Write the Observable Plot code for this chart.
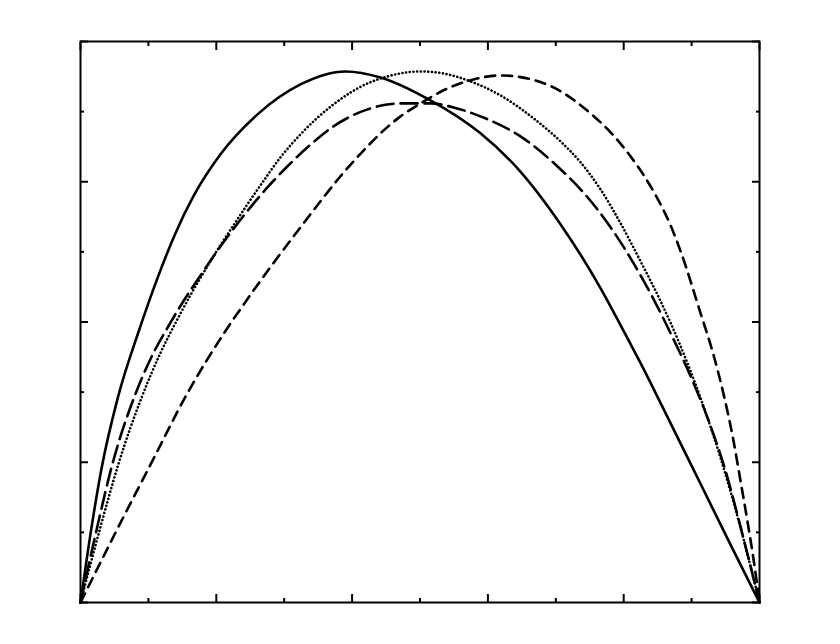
<!DOCTYPE html>
<html>
<head>
<meta charset="utf-8">
<script src="https://cdn.jsdelivr.net/npm/d3@7"></script>
<script src="https://cdn.jsdelivr.net/npm/@observablehq/plot@0.6"></script>
<style>
  html, body { margin: 0; padding: 0; background: #ffffff; }
  #chart svg { display: block; }
</style>
</head>
<body>
<div id="chart"></div>
<script>
// Solid curve
const solidX = [0, 0.0162, 0.0309, 0.0545, 0.0869, 0.1134, 0.1399, 0.1664, 0.2062, 0.2607, 0.3240, 0.3903, 0.4418, 0.5155, 0.5891, 0.6436, 0.7069, 0.7658, 0.7953, 0.8247, 0.8542, 0.9131, 0.9573, 1];
const solidY = [0, 0.1068, 0.1907, 0.2904, 0.3900, 0.4626, 0.5267, 0.5794, 0.6391, 0.6961, 0.7388, 0.7573, 0.7488, 0.7160, 0.6690, 0.6192, 0.5395, 0.4484, 0.3957, 0.3416, 0.2847, 0.1694, 0.0826, 0];

// Dotted curve
const dottedX = [0, 0.0280, 0.0560, 0.0898, 0.1178, 0.1414, 0.1620, 0.1870, 0.2062, 0.2283, 0.2459, 0.2651, 0.2946, 0.3240, 0.3726, 0.4227, 0.4521, 0.5007, 0.5346, 0.5744, 0.6186, 0.6672, 0.7069, 0.7364, 0.7658, 0.7953, 0.8247, 0.8542, 0.8837, 0.9131, 0.9426, 0.9720, 1];
const dottedY = [0, 0.1025, 0.1979, 0.2918, 0.3559, 0.4014, 0.4384, 0.4797, 0.5096, 0.5423, 0.5680, 0.5950, 0.6349, 0.6676, 0.7103, 0.7402, 0.7502, 0.7573, 0.7544, 0.7431, 0.7231, 0.6904, 0.6576, 0.6278, 0.5893, 0.5409, 0.4868, 0.4299, 0.3658, 0.2918, 0.2064, 0.1068, 0];

// Long-dash curve
const longDashX = [0, 0.0221, 0.0471, 0.0810, 0.1031, 0.1296, 0.1517, 0.1811, 0.2032, 0.2283, 0.2769, 0.3049, 0.3343, 0.3726, 0.4227, 0.4713, 0.5155, 0.5493, 0.5891, 0.6480, 0.7069, 0.7364, 0.7806, 0.8144, 0.8439, 0.8689, 0.8984, 0.9278, 0.9499, 0.9735, 1];
const longDashY = [0, 0.0968, 0.1979, 0.2975, 0.3473, 0.3943, 0.4299, 0.4726, 0.5039, 0.5367, 0.5936, 0.6221, 0.6491, 0.6790, 0.7032, 0.7117, 0.7117, 0.7060, 0.6932, 0.6648, 0.6178, 0.5893, 0.5352, 0.4840, 0.4327, 0.3843, 0.3231, 0.2520, 0.1879, 0.1025, 0];

// Short-dash curve
const shortDashX = [0, 0.0515, 0.1060, 0.1561, 0.2135, 0.2459, 0.2798, 0.3196, 0.3535, 0.3829, 0.4227, 0.4418, 0.4713, 0.5007, 0.5405, 0.5788, 0.6186, 0.6583, 0.6966, 0.7511, 0.7806, 0.8100, 0.8395, 0.8542, 0.8689, 0.8837, 0.9131, 0.9323, 0.9470, 0.9617, 0.9720, 0.9838, 0.9926, 1];
const shortDashY = [0, 0.0996, 0.2021, 0.2961, 0.3872, 0.4327, 0.4783, 0.5295, 0.5722, 0.6078, 0.6505, 0.6690, 0.6932, 0.7117, 0.7331, 0.7459, 0.7516, 0.7473, 0.7345, 0.6975, 0.6705, 0.6363, 0.5936, 0.5680, 0.5381, 0.5011, 0.4128, 0.3530, 0.2975, 0.2306, 0.1737, 0.1068, 0.0527, 0];

// Tick values
const xMajorTicks = [0, 0.2, 0.4, 0.6, 0.8, 1];
const xMinorTicks = [0.1, 0.3, 0.5, 0.7, 0.9];
const yMajorTicks = [0, 0.2, 0.4, 0.6, 0.8];
const yMinorTicks = [0.1, 0.3, 0.5, 0.7];

const toRows = (xs, ys) => xs.map((x, i) => ({x, y: ys[i]}));
const solid = toRows(solidX, solidY);
const dotted = toRows(dottedX, dottedY);
const longDash = toRows(longDashX, longDashY);
const shortDash = toRows(shortDashX, shortDashY);

const tickStyle = {text: null, label: null, strokeWidth: 2, stroke: "#000"};
const curve = "monotone-x";

const chart = Plot.plot({
  width: 840,
  height: 644,
  marginLeft: 80,
  marginRight: 81,
  marginTop: 41,
  marginBottom: 42,
  style: {background: "transparent"},
  x: {domain: [0, 1]},
  y: {domain: [0, 0.8]},
  marks: [
    Plot.line(solid, {x: "x", y: "y", curve, stroke: "#000", strokeWidth: 2.6}),
    Plot.line(dotted, {x: "x", y: "y", curve, stroke: "#000", strokeWidth: 2.6, strokeDasharray: "0.1,3.6", strokeLinecap: "round"}),
    Plot.line(longDash, {x: "x", y: "y", curve, stroke: "#000", strokeWidth: 2.6, strokeDasharray: "17,7"}),
    Plot.line(shortDash, {x: "x", y: "y", curve, stroke: "#000", strokeWidth: 2.6, strokeDasharray: "10,7"}),
    Plot.axisX(xMajorTicks, {...tickStyle, anchor: "bottom", tickSize: 8, dy: -8}),
    Plot.axisX(xMinorTicks, {...tickStyle, anchor: "bottom", tickSize: 4, dy: -4}),
    Plot.axisX(xMajorTicks, {...tickStyle, anchor: "top", tickSize: 8, dy: 8}),
    Plot.axisX(xMinorTicks, {...tickStyle, anchor: "top", tickSize: 4, dy: 4}),
    Plot.axisY(yMajorTicks, {...tickStyle, anchor: "left", tickSize: 8, dx: 8}),
    Plot.axisY(yMinorTicks, {...tickStyle, anchor: "left", tickSize: 4, dx: 4}),
    Plot.axisY(yMajorTicks, {...tickStyle, anchor: "right", tickSize: 8, dx: -8}),
    Plot.axisY(yMinorTicks, {...tickStyle, anchor: "right", tickSize: 4, dx: -4}),
    Plot.frame({stroke: "#000", strokeWidth: 2})
  ]
});
document.getElementById("chart").appendChild(chart);
</script>
</body>
</html>
